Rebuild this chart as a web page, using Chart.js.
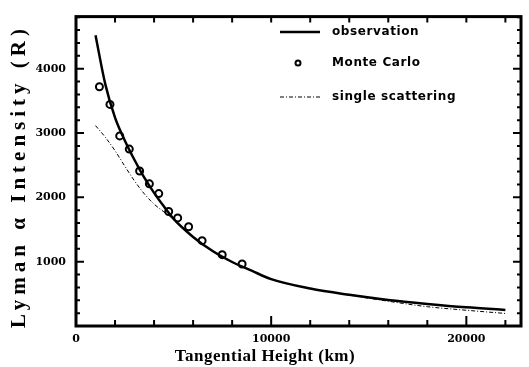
<!DOCTYPE html>
<html lang="en">
<head>
<meta charset="utf-8" />
<title>Lyman alpha intensity vs tangential height</title>
<script src="https://cdn.jsdelivr.net/npm/chart.js@4.4.0/dist/chart.umd.min.js"></script>
<style>
  html, body { margin: 0; padding: 0; background: #fff; }
</style>
</head>
<body>
<canvas id="chart" width="529" height="367"></canvas>
<script>
// values (km, Rayleigh)
const obsHeight    = [1000, 1500, 2000, 2500, 3000, 3500, 4000, 4500, 5000, 6000, 7000, 8000, 9000, 10000, 12000, 14000, 16000, 18000, 20000, 22000];
const obsIntensity = [4520, 3760, 3240, 2885, 2580, 2305, 2070, 1860, 1665, 1385, 1165, 995, 860, 728, 582, 485, 405, 343, 290, 250];

const mcHeight    = [1200, 1740, 2240, 2730, 3260, 3760, 4240, 4750, 5210, 5770, 6460, 7490, 8510];
const mcIntensity = [3720, 3445, 2955, 2750, 2410, 2210, 2058, 1780, 1680, 1543, 1327, 1109, 963];

const ssHeight    = [1000, 1500, 2000, 2500, 3000, 3500, 4000, 4500, 5000, 6000, 7000, 8000, 9000, 10000, 12000, 14000, 16000, 18000, 20000, 22000];
const ssIntensity = [3115, 2935, 2725, 2485, 2255, 2055, 1895, 1775, 1660, 1385, 1165, 995, 860, 728, 582, 480, 385, 300, 245, 195];

const xLabels = [0, 10000, 20000];
const yLabels = [1000, 2000, 3000, 4000];

const pts = (xs, ys) => xs.map((x, i) => ({ x: x, y: ys[i] }));

// frame + inward tick marks, like the original plot
const frameTicks = {
    id: 'frameTicks',
    afterDraw(chart) {
        const ctx = chart.ctx;
        const a = chart.chartArea;
        const xs = chart.scales.x, ys = chart.scales.y;
        ctx.save();
        ctx.strokeStyle = '#000';
        ctx.lineWidth = 2;
        ctx.beginPath();
        for (let v = 2000; v <= 22000; v += 2000) {
            const px = xs.getPixelForValue(v);
            const len = v % 10000 === 0 ? 10 : 6;
            ctx.moveTo(px, a.bottom); ctx.lineTo(px, a.bottom - len);
            ctx.moveTo(px, a.top); ctx.lineTo(px, a.top + 6);
        }
        for (let v = 200; v <= 4800; v += 200) {
            const py = ys.getPixelForValue(v);
            const len = v % 1000 === 0 ? 8 : 4;
            ctx.moveTo(a.left, py); ctx.lineTo(a.left + len, py);
            ctx.moveTo(a.right, py); ctx.lineTo(a.right - len, py);
        }
        ctx.stroke();
        ctx.lineWidth = 3;
        ctx.strokeRect(a.left, a.top, a.right - a.left, a.bottom - a.top);
        ctx.restore();
    }
};

// legend box in the upper right, built from the dataset styles
const insideLegend = {
    id: 'insideLegend',
    afterDraw(chart) {
        const ctx = chart.ctx;
        const ds = chart.data.datasets;
        ctx.save();
        ctx.fillStyle = '#000';
        ctx.strokeStyle = '#000';
        ctx.font = 'bold 12px "DejaVu Sans"';
        ctx.letterSpacing = '0.6px';
        ctx.textBaseline = 'middle';
        const rows = [32, 63, 97];
        ds.forEach((d, i) => {
            const y = rows[i];
            if (d.showLine === false) {
                ctx.beginPath();
                ctx.lineWidth = 2;
                ctx.arc(298, y, 2.5, 0, Math.PI * 2);
                ctx.stroke();
            } else {
                ctx.beginPath();
                ctx.lineWidth = d.borderWidth;
                ctx.setLineDash(d.borderDash || []);
                ctx.moveTo(280, y); ctx.lineTo(320, y);
                ctx.stroke();
                ctx.setLineDash([]);
            }
            ctx.fillText(d.label, 332, y);
        });
        ctx.restore();
    }
};

// axis titles
const axisTitles = {
    id: 'axisTitles',
    afterDraw(chart) {
        const ctx = chart.ctx;
        ctx.save();
        ctx.fillStyle = '#000';
        ctx.textBaseline = 'middle';
        ctx.font = 'bold 17px "Liberation Serif"';
        ctx.letterSpacing = '0.5px';
        ctx.textAlign = 'center';
        ctx.fillText('Tangential Height (km)', 265, 357);
        ctx.translate(20, 328);
        ctx.rotate(-Math.PI / 2);
        ctx.font = 'bold 21px "Liberation Serif"';
        ctx.letterSpacing = '5px';
        ctx.textAlign = 'left';
        ctx.fillText('Lyman \u03b1 Intensity (R)', 0, 0);
        ctx.restore();
    }
};

const tickFont = { family: 'DejaVu Serif', weight: 'bold', size: 11 };

new Chart(document.getElementById('chart'), {
    type: 'scatter',
    data: {
        datasets: [{
            label: 'observation',
            data: pts(obsHeight, obsIntensity),
            showLine: true,
            borderColor: '#000',
            borderWidth: 2.5,
            pointRadius: 0,
            cubicInterpolationMode: 'monotone'
        }, {
            label: 'Monte Carlo',
            data: pts(mcHeight, mcIntensity),
            showLine: false,
            pointRadius: 3.5,
            pointBorderWidth: 2,
            pointBorderColor: '#000',
            pointBackgroundColor: '#fff'
        }, {
            label: 'single scattering',
            data: pts(ssHeight, ssIntensity),
            showLine: true,
            borderColor: '#000',
            borderWidth: 1,
            borderDash: [4, 2, 1, 2],
            pointRadius: 0,
            cubicInterpolationMode: 'monotone'
        }]
    },
    options: {
        responsive: false,
        animation: false,
        layout: { padding: { top: 8, right: 8, left: 0, bottom: 0 } },
        plugins: { legend: { display: false }, tooltip: { enabled: false } },
        scales: {
            x: {
                type: 'linear',
                min: 0,
                max: 22800,
                grid: { display: false, drawTicks: false },
                border: { display: false },
                afterBuildTicks: s => { s.ticks = xLabels.map(v => ({ value: v })); },
                ticks: {
                    autoSkip: false,
                    maxRotation: 0,
                    padding: 7,
                    color: '#000',
                    font: tickFont,
                    callback: v => String(v)
                },
                afterFit: s => { s.height = 41; }
            },
            y: {
                min: 0,
                max: 4810,
                grid: { display: false, drawTicks: false },
                border: { display: false },
                afterBuildTicks: s => { s.ticks = yLabels.map(v => ({ value: v })); },
                ticks: {
                    autoSkip: false,
                    padding: 10,
                    color: '#000',
                    font: tickFont,
                    callback: v => String(v)
                },
                afterFit: s => { s.width = 76; }
            }
        }
    },
    plugins: [frameTicks, insideLegend, axisTitles]
});
</script>
</body>
</html>
